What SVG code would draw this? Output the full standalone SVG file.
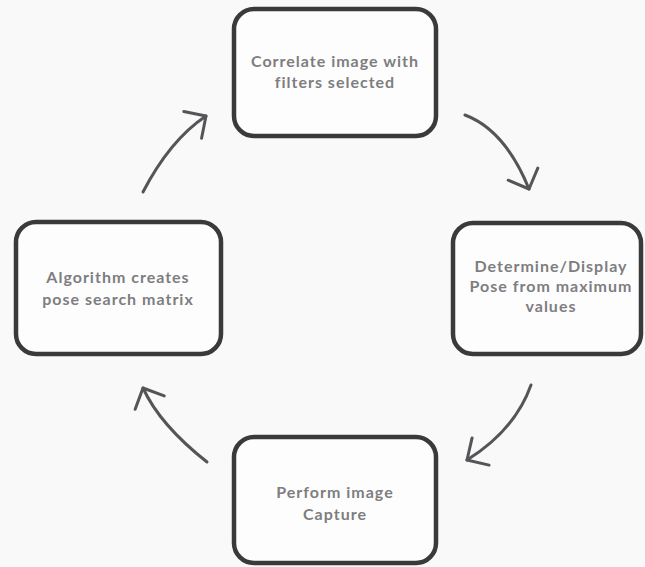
<svg xmlns="http://www.w3.org/2000/svg" width="645" height="567" viewBox="0 0 645 567">
<style>
.box{fill:#fdfdfd;stroke:#3a3a3a;stroke-width:4.5}
.lbl{font-family:Lato,"Open Sans","Liberation Sans",sans-serif;font-weight:bold;font-size:16px;letter-spacing:1px;fill:#7e7e80;text-anchor:middle}
.con{fill:none;stroke:#555558;stroke-width:3;stroke-linecap:round}
</style>
<defs>
<marker id="ah" markerUnits="userSpaceOnUse" viewBox="-20 -20 24 40" markerWidth="24" markerHeight="40" refX="0" refY="0" orient="auto">
<path d="M-16,-16 L0,0 L-16,16" fill="none" stroke="#555558" stroke-width="3" stroke-linecap="round" stroke-linejoin="round"/>
</marker>
</defs>
<rect width="645" height="567" fill="#f9f9f9"/>
<g id="n-correlate">
<rect class="box" x="234" y="9" width="202" height="127" rx="20"/>
<text class="lbl" x="335" y="67">Correlate image with</text>
<text class="lbl" x="335" y="88">filters selected</text>
</g>
<g id="n-determine">
<rect class="box" x="453" y="223" width="188" height="131" rx="20"/>
<text class="lbl" x="551" y="272">Determine/Display</text>
<text class="lbl" x="551" y="292">Pose from maximum</text>
<text class="lbl" x="551" y="312">values</text>
</g>
<g id="n-capture">
<rect class="box" x="234" y="437" width="202" height="126" rx="20"/>
<text class="lbl" x="335" y="498">Perform image</text>
<text class="lbl" x="335" y="520">Capture</text>
</g>
<g id="n-algorithm">
<rect class="box" x="16" y="222" width="205" height="132" rx="20"/>
<text class="lbl" x="118" y="283">Algorithm creates</text>
<text class="lbl" x="118" y="305">pose search matrix</text>
</g>
<g id="connectors">
<path class="con" d="M465,115 Q505,130 529,189" marker-end="url(#ah)"/>
<path class="con" d="M531,385 Q515,430 467,460" marker-end="url(#ah)"/>
<path class="con" d="M207,462 Q160,425 143,388" marker-end="url(#ah)"/>
<path class="con" d="M143,192 Q170,140 206,116" marker-end="url(#ah)"/>
</g>
</svg>
